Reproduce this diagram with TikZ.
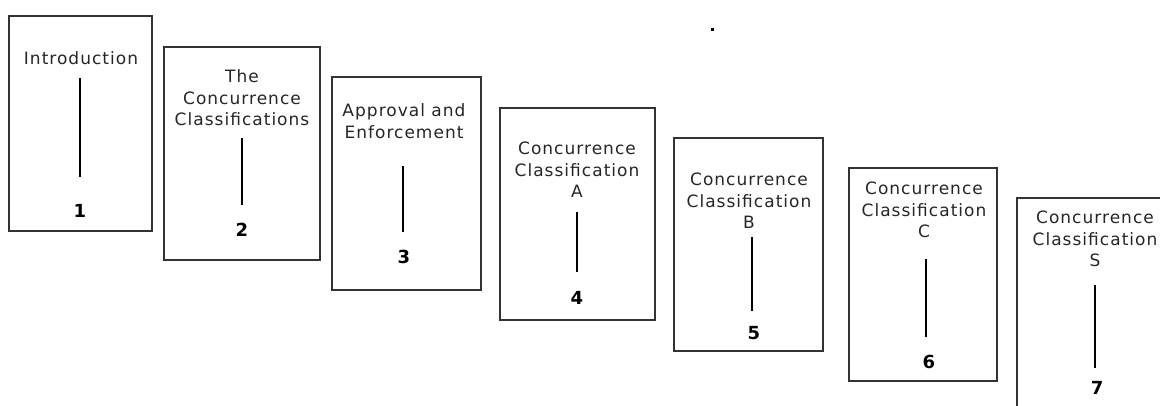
\documentclass[tikz,border=0pt]{standalone}
\usepackage{fontspec}
\setmainfont{DejaVu Sans}[LetterSpace=6]
\begin{document}
\begin{tikzpicture}[x=0.75pt,y=-0.75pt,
  box/.style={draw=black!80,line width=0.8pt,inner sep=0pt,outer sep=0pt},
  title/.style={align=center,inner sep=0pt,font=\fontsize{12.75pt}{16.2pt}\selectfont,text=black!85},
  num/.style={inner sep=0pt,font=\fontsize{13.5pt}{16pt}\selectfont\bfseries},
  bar/.style={line width=1.1pt,black}]
\clip (0,0) rectangle (1160,405);
% boxes
\node[box,minimum width=107.25pt,minimum height=161.25pt] (b1) at (80.5,123.5) {};
\node[box,minimum width=117pt,minimum height=159.75pt] (b2) at (242,153.5) {};
\node[box,minimum width=111.75pt,minimum height=159.75pt] (b3) at (406.5,183.5) {};
\node[box,minimum width=116.25pt,minimum height=159pt] (b4) at (577.5,214) {};
\node[box,minimum width=111.75pt,minimum height=159.75pt] (b5) at (748.5,244.5) {};
\node[box,minimum width=111pt,minimum height=159.75pt] (b6) at (923,274.5) {};
\node[box,minimum width=118.5pt,minimum height=160.5pt] (b7) at (1096,305) {};
% titles
\node[title] (t1) at (81,58) {Introduction};
\node[title] (t2) at (242,98) {The\\Concurrence\\Classifications};
\node[title] (t3) at (404,121) {Approval and\\Enforcement};
\node[title] (t4) at (577,170) {Concurrence\\Classification\\A};
\node[title] (t5) at (749,201) {Concurrence\\Classification\\B};
\node[title] (t6) at (924,210) {Concurrence\\Classification\\C};
\node[title] (t7) at (1095,239) {Concurrence\\Classification\\S};
% numbers
\node[num] (n1) at (80,211) {1};
\node[num] (n2) at (242,230) {2};
\node[num] (n3) at (404,257) {3};
\node[num] (n4) at (577,298) {4};
\node[num] (n5) at (754,333) {5};
\node[num] (n6) at (929,362) {6};
\node[num] (n7) at (1097,388) {7};
% bars
\coordinate (p1) at (80,78);   \coordinate (q1) at (80,177);
\coordinate (p2) at (242,138); \coordinate (q2) at (242,205);
\coordinate (p3) at (403,166); \coordinate (q3) at (403,232);
\coordinate (p4) at (577,212); \coordinate (q4) at (577,272);
\coordinate (p5) at (752,237); \coordinate (q5) at (752,311);
\coordinate (p6) at (926,259); \coordinate (q6) at (926,337);
\coordinate (p7) at (1095,285);\coordinate (q7) at (1095,368);
\foreach \i in {1,...,7} \draw[bar] (p\i) -- (q\i);
% stray dot
\fill (711,28) rectangle (714,31);
\end{tikzpicture}
\end{document}
